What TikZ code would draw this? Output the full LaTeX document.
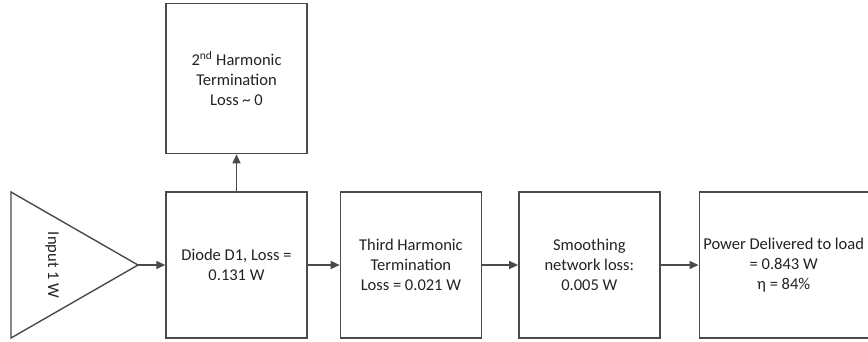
\documentclass[tikz,border=0pt]{standalone}
\usepackage{fontspec}
\setmainfont{Carlito}
\usetikzlibrary{positioning, arrows.meta}
\definecolor{LineGray}{HTML}{4A4A4A}
\definecolor{TextGray}{HTML}{222222}

\begin{document}
\begin{tikzpicture}[
        x=1pt, y=-1pt,
        node distance=36pt,
        block/.style={
            rectangle, draw=LineGray, line width=1.4pt, minimum width=141pt,
            minimum height=146pt, align=center, text=TextGray,
            font=\fontsize{16.5}{20}\selectfont, inner sep=2pt
        },
        arrow/.style={line width=1.4pt, draw=LineGray, -{Triangle[length=9pt,width=8pt]}}
    ]
    \useasboundingbox (0,0) rectangle (868,341);

    % Input stage
    \draw[line width=1.4pt, draw=LineGray] (11,192) -- (138,265) -- (11,338) -- cycle;
    \coordinate (input) at (138,265);
    \node[rotate=-90, text=TextGray, font=\fontsize{16.5}{20}\selectfont] (inlabel) at (52,265) {Input 1 W};

    % Blocks
    \node (diode) [block] at (236.5,265) {Diode D1, Loss =\\0.131 W};
    \node (second) [block, above=37pt of diode, minimum height=150pt] {2\textsuperscript{nd} Harmonic\\Termination\\Loss \textasciitilde{} 0};
    \node (third) [block, right=32pt of diode] {Third Harmonic\\Termination\\Loss = 0.021 W};
    \node (smooth) [block, right=of third] {Smoothing\\network loss:\\0.005 W};
    \node (load) [block, right=38pt of smooth, minimum width=169pt] {Power Delivered to load\\= 0.843 W\\η = 84\%};

    % Arrows
    \draw [arrow] (input) -- (diode.west);
    \draw [arrow] (diode.north) -- (second.south);
    \draw [arrow] (diode.east) -- (third.west);
    \draw [arrow] (third.east) -- (smooth.west);
    \draw [arrow] (smooth.east) -- (load.west);
\end{tikzpicture}
\end{document}
